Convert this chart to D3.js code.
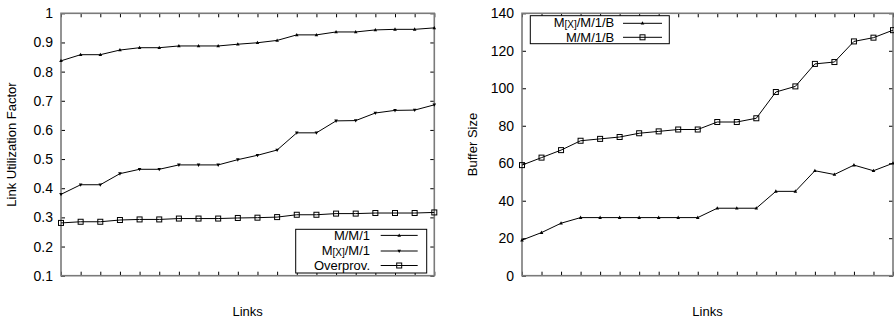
<!DOCTYPE html>
<html><head><meta charset="utf-8">
<script src="https://cdn.jsdelivr.net/npm/d3@7"></script>
<style>body{margin:0;background:#fff}svg{display:block}text{font-family:"Liberation Sans",Arial,Helvetica,sans-serif;fill:#000}</style>
</head><body><svg id="c" width="894" height="320"></svg>
<script>
// ---- data ----
const links = d3.range(20);
const mm1 = [0.837,0.858,0.858,0.874,0.882,0.882,0.888,0.888,0.888,0.894,0.899,0.907,0.926,0.926,0.936,0.936,0.943,0.945,0.945,0.950];
const mxm1 = [0.379,0.412,0.412,0.450,0.465,0.465,0.480,0.480,0.480,0.498,0.513,0.531,0.590,0.590,0.631,0.632,0.658,0.667,0.668,0.686];
const overprov = [0.281,0.285,0.285,0.291,0.293,0.293,0.296,0.296,0.296,0.298,0.299,0.301,0.309,0.309,0.313,0.313,0.315,0.315,0.315,0.317];
const mxm1b = [19,23,28,31,31,31,31,31,31,31,36,36,36,45,45,56,54,59,56,60];
const mm1b = [59,63,67,72,73,74,76,77,78,78,82,82,84,98,101,113,114,125,127,131];
const leftTicks = [0.1,0.2,0.3,0.4,0.5,0.6,0.7,0.8,0.9,1];
const rightTicks = [0,20,40,60,80,100,120,140];

const svg = d3.select("#c");
const BORDER = "#7a7a7a";

function panel(o){
  const g = svg.append("g");
  const x = d3.scaleLinear().domain([0,19]).range([o.x0,o.x1]);
  const y = d3.scaleLinear().domain(o.ydom).range([o.yb,o.yt]);
  const tl = 4;
  g.append("g").attr("transform",`translate(${o.x0},0)`)
    .call(d3.axisLeft(y).tickValues(o.ticks).tickSize(-tl).tickPadding(8).tickFormat(o.fmt))
    .call(a=>{a.select(".domain").remove();a.selectAll("line").attr("stroke","#000");a.selectAll("text").attr("font-size",14).attr("font-family","Liberation Sans, Arial, sans-serif").attr("fill","#000");});
  g.append("g").attr("transform",`translate(${o.x1},0)`)
    .call(d3.axisRight(y).tickValues(o.ticks).tickSize(-tl).tickFormat(""))
    .call(a=>{a.select(".domain").remove();a.selectAll("line").attr("stroke","#000");});
  g.append("g").attr("transform",`translate(0,${o.yb})`)
    .call(d3.axisBottom(x).tickValues(links).tickSize(-tl).tickFormat(""))
    .call(a=>{a.select(".domain").remove();a.selectAll("line").attr("stroke","#000");});
  g.append("g").attr("transform",`translate(0,${o.yt})`)
    .call(d3.axisTop(x).tickValues(links).tickSize(-tl).tickFormat(""))
    .call(a=>{a.select(".domain").remove();a.selectAll("line").attr("stroke","#000");});
  g.append("rect").attr("x",o.x0).attr("y",o.yt).attr("width",o.x1-o.x0).attr("height",o.yb-o.yt)
    .attr("fill","none").attr("stroke",BORDER).attr("stroke-width",1.6);
  g.append("text").attr("x",(o.x0+o.x1)/2).attr("y",316).attr("text-anchor","middle").attr("font-size",13).text("Links");
  g.append("text").attr("transform",`translate(${o.ylx},${(o.yt+o.yb)/2}) rotate(-90)`).attr("text-anchor","middle").attr("font-size",13).text(o.ylabel);
  return {g,x,y};
}

function marker(g, kind, cx, cy){
  if(kind==="sq"){
    g.append("rect").attr("x",cx-2.5).attr("y",cy-2.5).attr("width",5).attr("height",5).attr("fill","none").attr("stroke","#000").attr("stroke-width",1);
  } else if(kind==="up"){
    g.append("path").attr("d",`M${cx},${cy-2}L${cx+1.8},${cy+1.3}L${cx-1.8},${cy+1.3}Z`).attr("fill","#000");
  } else {
    g.append("path").attr("d",`M${cx},${cy+2}L${cx+1.8},${cy-1.3}L${cx-1.8},${cy-1.3}Z`).attr("fill","#000");
  }
}

function series(p, vals, kind){
  const line = d3.line().x((d,i)=>p.x(i)).y(d=>p.y(d));
  p.g.append("path").datum(vals).attr("d",line).attr("fill","none").attr("stroke","#000").attr("stroke-width",1);
  vals.forEach((v,i)=>marker(p.g,kind,p.x(i),p.y(v)));
}

function legend(g, box, items){
  g.append("rect").attr("x",box.x).attr("y",box.y).attr("width",box.w).attr("height",box.h).attr("fill","#fff").attr("stroke","#000").attr("stroke-width",1);
  items.forEach((it,i)=>{
    const yy = box.ly[i];
    const t = g.append("text").attr("x",box.tx).attr("y",yy+4.5).attr("text-anchor","end").attr("font-size",13);
    if(it.sub){
      t.attr("y",yy+3.5);
      t.append("tspan").text("M");
      t.append("tspan").attr("font-size",10).attr("dy",1.5).text("[X]");
      t.append("tspan").attr("dy",-1.5).text(it.rest);
    } else t.text(it.label);
    g.append("line").attr("x1",box.s0).attr("x2",box.s1).attr("y1",yy).attr("y2",yy).attr("stroke","#000");
    marker(g,it.kind,(box.s0+box.s1)/2,yy);
  });
}

const L = panel({x0:61,x1:434.3,yt:13.3,yb:275.7,ydom:[0.1,1],ticks:leftTicks,fmt:d3.format("~g"),ylabel:"Link Utilization Factor",ylx:16});
series(L, mm1, "up");
series(L, mxm1, "down");
series(L, overprov, "sq");
legend(L.g,{x:295.7,y:229.3,w:131,h:43.7,ly:[235.4,251.0,265.5],tx:370,s0:380.7,s1:417.7},[
  {label:"M/M/1",kind:"up"},
  {sub:true,rest:"/M/1",kind:"down"},
  {label:"Overprov.",kind:"sq"}]);

const R = panel({x0:522,x1:893,yt:13.3,yb:275.7,ydom:[0,140],ticks:rightTicks,fmt:d3.format("d"),ylabel:"Buffer Size",ylx:477});
series(R, mxm1b, "up");
series(R, mm1b, "sq");
legend(R.g,{x:530.3,y:15.7,w:139,h:28,ly:[23.3,37.3],tx:614.3,s0:623,s1:662},[
  {sub:true,rest:"/M/1/B",kind:"up"},
  {label:"M/M/1/B",kind:"sq"}]);
</script></body></html>
